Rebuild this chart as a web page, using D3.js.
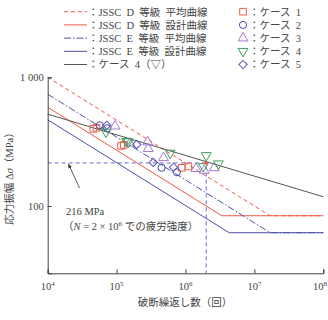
<!DOCTYPE html>
<html>
<head>
<meta charset="utf-8">
<script src="https://cdn.jsdelivr.net/npm/d3@7"></script>
<style>
  body { margin: 0; background: #fff; }
  svg { display: block; }
  text { font-family: "Liberation Serif", "Noto Sans CJK JP", serif; fill: #444; }
</style>
</head>
<body>
<script>
(function(d3) {

  // Size of the page we draw on
  var W = 328, H = 320;
  var margin = {left: 47.7, top: 77.3, right: 4.7, bottom: 46.7};

  // S-N curves: [cycles, stress range (MPa)]
  var dMean = [[1e4, 1000], [1.69e7, 84], [1e8, 84]];
  var dDesign = [[1e4, 585], [3.37e6, 84], [1e8, 84]];
  var eMean = [[1e4, 740], [1.70e7, 62], [1e8, 62]];
  var eDesign = [[1e4, 468], [4.3e6, 62], [1e8, 62]];
  var case4Fit = [[1e4, 517], [1e8, 118]];

  // Test results per case: [cycles, stress range (MPa)]
  var case1 = [[4.6e4, 398], [5.1e4, 405], [1.16e5, 293], [1.27e5, 298], [8.8e5, 198], [1.10e6, 203]];
  var case2 = [[5.7e4, 424], [7.3e4, 402], [4.5e5, 198], [7.5e5, 183]];
  var case3 = [[9.5e4, 417], [1.56e5, 307], [2.83e5, 314], [2.88e5, 279], [4.8e5, 237],
               [1.42e6, 195], [1.87e6, 189], [2.62e6, 198]];
  var case4 = [[7.0e4, 376], [1.40e5, 318], [1.48e5, 316], [6.0e5, 258], [2.0e6, 247],
               [1.81e6, 203], [3.0e6, 213]];
  var case5 = [[7.2e4, 424], [1.96e5, 301], [3.4e5, 218], [6.7e5, 200]];

  // Fatigue strength at 2 million cycles
  var refN = 2e6, refS = 216;
  var noteAt = [2.0e4, 216];   // arrow tip
  var noteFrom = [2.9e4, 138]; // arrow tail

  var xTicks = [1e4, 1e5, 1e6, 1e7, 1e8];
  var yTicks = [100, 1000];
  var yTickLabels = ["100", "1 000"];

  var lineLegend = [
    "：JSSC  D  等級  平均曲線",
    "：JSSC  D  等級  設計曲線",
    "：JSSC  E  等級  平均曲線",
    "：JSSC  E  等級  設計曲線",
    "：ケース  4（▽）"
  ];
  var caseLegend = ["：ケース  1", "：ケース  2", "：ケース  3", "：ケース  4", "：ケース  5"];

  var red = "#ee5a44", blue = "#4f4fa6", gray = "#555";
  var lineStyles = [
    {color: red, dash: "4,3"},
    {color: red, dash: null},
    {color: blue, dash: "7,2,1.5,2"},
    {color: blue, dash: null},
    {color: gray, dash: null}
  ];
  var markers = [
    {type: d3.symbolSquare, size: 44, rot: 0, color: "#e8604c"},
    {type: d3.symbolCircle, size: 40, rot: 0, color: "#4848a8"},
    {type: d3.symbolTriangle, size: 42, rot: 0, color: "#a678d0"},
    {type: d3.symbolTriangle, size: 42, rot: 180, color: "#3f9f55"},
    {type: d3.symbolSquare, size: 34, rot: 45, color: "#5b57b5"}
  ];

  var svg = d3.select("body").append("svg")
    .attr("width", W)
    .attr("height", H);

  var x = d3.scaleLog().domain([1e4, 1e8]).range([margin.left, W - margin.right]);
  var y = d3.scaleLog().domain([30, 1000]).range([H - margin.bottom, margin.top]);

  var line = d3.line()
    .x(function(d) { return x(d[0]); })
    .y(function(d) { return y(d[1]); });

  // Reference lines for 216 MPa at 2e6 cycles
  svg.append("path")
    .attr("d", line([[1e4, refS], [refN, refS], [refN, 30]]))
    .attr("fill", "none")
    .attr("stroke", "#6b6bc4")
    .attr("stroke-width", 1)
    .attr("stroke-dasharray", "4,3");

  // S-N curves
  [dMean, dDesign, eMean, eDesign, case4Fit].forEach(function(pts, i) {
    svg.append("path")
      .attr("d", line(pts))
      .attr("fill", "none")
      .attr("stroke", lineStyles[i].color)
      .attr("stroke-width", 1)
      .attr("stroke-dasharray", lineStyles[i].dash);
  });

  // Test points
  [case1, case2, case3, case4, case5].forEach(function(pts, i) {
    var m = markers[i];
    svg.append("g").selectAll("path")
      .data(pts)
      .join("path")
      .attr("d", d3.symbol().type(m.type).size(m.size))
      .attr("transform", function(d) {
        return "translate(" + x(d[0]) + "," + y(d[1]) + ") rotate(" + m.rot + ")";
      })
      .attr("fill", "none")
      .attr("stroke", m.color)
      .attr("stroke-width", 1);
  });

  // Little red dot where the reference lines cross
  svg.append("circle")
    .attr("cx", x(refN))
    .attr("cy", y(refS))
    .attr("r", 1.8)
    .attr("fill", red);

  // Axes, ticks point inward
  var xAxis = svg.append("g")
    .attr("transform", "translate(0," + (H - margin.bottom) + ")")
    .call(d3.axisBottom(x).tickValues(xTicks).tickSize(-4).tickFormat(""));
  var yAxis = svg.append("g")
    .attr("transform", "translate(" + margin.left + ",0)")
    .call(d3.axisLeft(y).tickValues(yTicks).tickSize(-4).tickFormat(""));
  [xAxis, yAxis].forEach(function(g) {
    g.select(".domain").attr("stroke", "#444");
    g.selectAll(".tick line").attr("stroke", "#444");
  });

  // Tick labels: 10 with superscript exponent; the last one is pulled in so it fits
  var last = xTicks.length - 1;
  var xl = svg.append("g").selectAll("text")
    .data(xTicks)
    .join("text")
    .attr("x", function(d, i) { return i === last ? W - 1 : x(d); })
    .attr("y", H - margin.bottom + 17)
    .attr("text-anchor", function(d, i) { return i === last ? "end" : "middle"; })
    .attr("font-size", 10.5);
  xl.append("tspan").text("10");
  xl.append("tspan")
    .attr("dy", -4)
    .attr("font-size", 7)
    .text(function(d) { return Math.round(Math.log10(d)); });

  svg.append("g").selectAll("text")
    .data(yTicks)
    .join("text")
    .attr("x", margin.left - 4)
    .attr("y", function(d) { return y(d) + 3.5; })
    .attr("text-anchor", "end")
    .attr("font-size", 10.5)
    .text(function(d, i) { return yTickLabels[i]; });

  // Axis titles
  svg.append("text")
    .attr("x", 185)
    .attr("y", 306)
    .attr("text-anchor", "middle")
    .attr("font-size", 10.5)
    .text("破断繰返し数（回）");

  var yt = svg.append("text")
    .attr("transform", "translate(13,176) rotate(-90)")
    .attr("text-anchor", "middle")
    .attr("font-size", 10.5);
  yt.append("tspan").text("応力振幅 Δ");
  yt.append("tspan").attr("font-style", "italic").text("σ");
  yt.append("tspan").text("（MPa）");

  // Annotation with arrow
  svg.append("defs").append("marker")
    .attr("id", "head")
    .attr("viewBox", "0 0 8 8")
    .attr("refX", 7)
    .attr("refY", 4)
    .attr("markerWidth", 6)
    .attr("markerHeight", 6)
    .attr("orient", "auto")
    .append("path")
    .attr("d", "M0,1L8,4L0,7Z")
    .attr("fill", "#333");

  svg.append("line")
    .attr("x1", x(noteFrom[0]))
    .attr("y1", y(noteFrom[1]))
    .attr("x2", x(noteAt[0]))
    .attr("y2", y(noteAt[1]) + 1)
    .attr("stroke", "#333")
    .attr("stroke-width", 0.8)
    .attr("marker-end", "url(#head)");

  svg.append("text")
    .attr("x", 66)
    .attr("y", 215)
    .attr("font-size", 10.5)
    .text("216 MPa");

  var note2 = svg.append("text")
    .attr("x", 63)
    .attr("y", 230)
    .attr("font-size", 10.5);
  note2.append("tspan").text("（");
  note2.append("tspan").attr("font-style", "italic").text("N");
  note2.append("tspan").text(" = 2 × 10");
  note2.append("tspan").attr("dy", -4).attr("font-size", 7).text("6");
  note2.append("tspan").attr("dy", 4).text(" での疲労強度）");

  // Legend: line styles on the left
  var rowY = function(i) { return 11.7 + i * 13.2; };
  var lg = svg.append("g").selectAll("g")
    .data(lineLegend)
    .join("g")
    .attr("transform", function(d, i) { return "translate(0," + rowY(i) + ")"; });
  lg.append("line")
    .attr("x1", 64).attr("x2", 87)
    .attr("stroke", function(d, i) { return lineStyles[i].color; })
    .attr("stroke-width", 1)
    .attr("stroke-dasharray", function(d, i) { return lineStyles[i].dash; });
  lg.append("text")
    .attr("x", 88)
    .attr("y", 3.8)
    .attr("font-size", 10.5)
    .style("white-space", "pre")
    .text(function(d) { return d; });

  // Legend: markers on the right
  var mg = svg.append("g").selectAll("g")
    .data(caseLegend)
    .join("g")
    .attr("transform", function(d, i) { return "translate(243," + rowY(i) + ")"; });
  mg.append("path")
    .attr("d", function(d, i) { return d3.symbol().type(markers[i].type).size(markers[i].size)(); })
    .attr("transform", function(d, i) { return "rotate(" + markers[i].rot + ")"; })
    .attr("fill", "none")
    .attr("stroke", function(d, i) { return markers[i].color; })
    .attr("stroke-width", 1);
  mg.append("text")
    .attr("x", 6)
    .attr("y", 3.8)
    .attr("font-size", 10.5)
    .style("white-space", "pre")
    .text(function(d) { return d; });

})(d3);
</script>
</body>
</html>
